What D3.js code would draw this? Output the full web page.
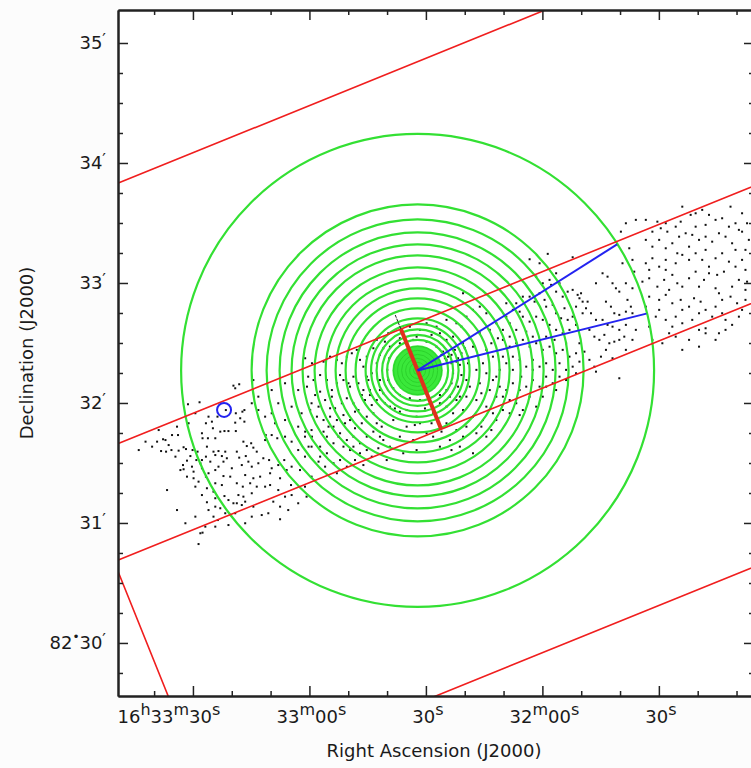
<!DOCTYPE html>
<html>
<head>
<meta charset="utf-8">
<script src="https://cdn.jsdelivr.net/npm/d3@7"></script>
<style>
  body { margin: 0; background: #fcfcfc; }
  text { font-family: "DejaVu Sans", sans-serif; fill: #1a1a1a; }
</style>
</head>
<body>
<div id="main"></div>
<script>

// ---- data ----

// plot extent: RA in seconds of time (16h33m49.3s -> 16h31m25.5s), Dec in arcmin above 82 deg
const raExtent = [59629.3, 59465.5];
const decExtent = [29.558, 35.275];

const raMajor = [59610, 59580, 59550, 59520, 59490];
const raLabels = ['16h33m30s', '33m00s', '30s', '32m00s', '30s'];
const decMajor = [30, 31, 32, 33, 34, 35];
const decLabels = ["82\u202230'", "31'", "32'", "33'", "34'", "35'"];

// source position
const source = { ra: 59552.14, dec: 32.271 };

// annuli radii, arcsec
const coreRadius = 12.6;
const innerRings = [2, 4, 6, 8, 10, 12];
const outerRings = [15.25, 17.75, 20.5, 23.25, 26, 31, 36, 41, 46, 51.5, 57.5, 63, 69, 75.5, 83, 118.25];

// projection boxes: centre offset (arcsec), position angle (deg), along-axis extent, half width
const boxes = [
  { cx: 1.73, cy: -4.32, angle: 22, along: [-250, 250], half: 27 },
  { cx: 2.08, cy: -5.2, angle: 22, along: [-177, 500], half: 148.75 }
];

// sector (panda) angles in deg, radius arcsec
const sectorAngles = [13.9, 32.2];
const sectorRadius = 118.25;

// background source circle
const bgCircle = { dx: -97.1, dy: -19.75, r: 3.5 };

// events, offsets from source in arcsec (west, north)
const events = [
  [-92.4,-7.6],[-89.5,-6.9],[-82.4,-4.8],[-91.5,-8.9],[-109.4,-15.9],[-115.2,-16.9],[-96.2,-19.8],[-100.4,-23.1],
  [-104.9,-23.1],[-106.2,-26.4],[-103.2,-25.6],[-91.2,-21.4],[-87.9,-20.6],[-86.9,-19.8],[-89,-23.9],[-91.5,-26.1],
  [-86.9,-25.6],[-120.7,-28.1],[-102.7,-28.9],[-99,-30.6],[-96.9,-30.3],[-94.9,-30.3],[-91.2,-30.3],[-136.5,-35.6],
  [-130.7,-35.6],[-127.7,-34.4],[-126.5,-34.8],[-123.2,-32.3],[-120.2,-32.3],[-108.2,-31.4],[-107.9,-33.9],[-105.2,-33.9],
  [-101.5,-33.9],[-128.7,-40.3],[-126.2,-40.6],[-123.5,-39.8],[-119.9,-40.1],[-117.4,-38.4],[-116.2,-39.3],[-112.9,-39.8],
  [-110.4,-40.6],[-105.7,-38.1],[-102.4,-40.6],[-99.9,-40.3],[-96.5,-40.6],[-87.4,-35.6],[-85.7,-37.8],[-83.5,-36.4],
  [-82.4,-38.6],[-80.7,-40.6],[-76.5,-34.8],[-76.2,-32.3],[-73.2,-32.3],[-70.4,-33.9],[-66.5,-33.1],[-114,-42.8],
  [-111,-44.8],[-108.2,-44.8],[-106.2,-43.1],[-101.5,-42.3],[-98.2,-42.8],[-95.7,-43.9],[-90.7,-40.6],[-89.5,-43.6],
  [-86.2,-42.8],[-117.7,-47.3],[-115.7,-45.1],[-113.2,-48.1],[-109,-46.4],[-104,-45.6],[-99.9,-48.1],[-97.4,-45.6],
  [-93.2,-48.9],[-88.2,-47.3],[-84.9,-45.6],[-83.2,-48.1],[-79.9,-46.4],[-77.4,-43.9],[-74.5,-44.8],[-73.2,-48.9],
  [-69.9,-47.3],[-66.9,-44.8],[-63.2,-48.1],[-117.4,-49.4],[-112.4,-50.6],[-108.2,-48.9],[-104.9,-51.4],[-101.5,-49.8],
  [-97.4,-52.8],[-94,-53.1],[-86.5,-52.3],[-82.4,-53.9],[-79,-53.1],[-74,-51.4],[-69,-53.9],[-65.7,-49.8],
  [-125.7,-59.8],[-112.4,-53.9],[-109.9,-55.6],[-106.2,-53.1],[-105.7,-58.9],[-101.5,-56.4],[-98.2,-57.3],[-90.7,-56.4],
  [-87.7,-58.1],[-84,-56.4],[-80.7,-58.1],[-76.5,-58.1],[-74,-57.3],[-69.9,-59.8],[-63.5,-57.3],[-102.4,-60.6],
  [-101.5,-63.9],[-96.9,-62.8],[-89.9,-62.3],[-87.4,-63.1],[-83.2,-61.4],[-63.2,-62.3],[-55.7,-63.1],[-120.7,-69.8],
  [-105.7,-65.9],[-101.5,-68.1],[-99,-68.9],[-94.9,-64.8],[-92.4,-66.4],[-90.7,-66.4],[-88.2,-67.3],[-86.5,-65.6],
  [-82.4,-68.1],[-78.2,-72.3],[-72.4,-65.6],[-69,-68.1],[-102.4,-73.1],[-100.2,-74.8],[-101.5,-78.1],[-107.9,-81.1],
  [-109,-81.4],[-109.9,-86.8],[-69,-74.4],[-66.5,-63.1],
  [-124.9,-37.3],[-133.2,-38.1],[-121.5,-43.1],[-119,-49.8],[-115.7,-53.1],[-111.5,-58.1],[-108.2,-62.3],[-104.9,-69.8],
  [-96.5,-71.4],[-91.5,-71.4],[-83.2,-73.1],[-74.9,-71.4],[-64.9,-69.8],[-59.9,-66.4],[-56.5,-58.1],[-53.2,-53.1],
  [-59,-49.8],[-56.5,-43.1],[-53.2,-38.1],[-59.9,-39.8],[-63.2,-35.6],[-56.5,-33.1],[-53.2,-29.8],[-59.9,-28.1],
  [-66.5,-24.8],[-71.5,-26.4],[-76.5,-23.1],[-79.9,-19.8],[-83.2,-16.4],[-79.9,-13.1],[-73.2,-9.8],[-66.5,-6.4],
  [-59.9,-9.8],[-54.9,-3.1],[-53.2,-16.4],[-58.2,-21.4],[-63.2,-18.1],[-69.9,-16.4],[-73.2,-21.4],[-116.5,-76.4],
  [-111.5,-73.1],[-106.5,-78.1],[-94.9,-77.3],[-86.5,-76.4],[-129.9,-29.8],[-139.9,-39.8],[-114.9,-26.4],[-111.5,-21.4],
  [-47.2,4.4],[-43.9,6.9],[-40.5,5.3],[-38,3.6],[-35.5,6.9],[-33,8.6],[-30.5,10.3],[-28.9,5.3],[-27.2,1.9],[-25.5,6.9],
  [-45.5,-4.8],[-43,-9.8],[-40.5,-6.4],[-37.2,-4.8],[-33.9,-8.1],[-32.2,-3.1],[-29.7,-6.4],[-27.2,-9.8],[-24.7,-4.8],
  [-23,-1.4],[-49.7,-18.1],[-46.4,-14.8],[-43,-13.1],[-41.4,-18.9],[-38,-16.4],[-35.5,-13.9],[-32.2,-16.4],[-29.7,-19.8],
  [-26.4,-14.8],[-23.9,-12.3],[-20.5,-14.8],[-47.2,-24.8],[-43.9,-23.1],[-42.2,-28.1],[-39.7,-33.1],[-36.4,-26.4],
  [-33.9,-24.8],[-31.4,-28.9],[-28,-26.4],[-25.5,-23.1],[-22.2,-21.4],[-18.9,-24.8],[-48.9,-38.1],[-45.5,-33.1],
  [-42.2,-36.4],[-38.9,-31.4],[-35.5,-34.8],[-32.2,-33.1],[-28.9,-36.4],[-25.5,-33.1],[-22.2,-30.6],[-18.9,-33.1],
  [-45.5,-41.4],[-42.2,-46.4],[-38.9,-44.8],[-33.9,-39.8],[-28.9,-41.4],[-25.5,-39.8],
  [-56.4,6.1],[-53,3.6],[-55.5,-8.1],[-51.4,-12.3],[-48.9,-10.6],[-53.9,-19.8],[-50.5,-23.1],[-56.4,-30.6],[-53,-33.1],
  [-54.7,-38.1],[-49.7,-45.6],[-46.4,-48.1],[-40.5,-51.4],[-35.5,-48.1],[-31.4,-44.8],[-27.2,-47.3],[-23,-43.1],
  [-19.7,-38.9],[-17.2,-34.8],[-18,-28.1],[-20.5,-26.4],[-23,-17.3],[-28,-12.3],[-31.4,-20.6],[-37.2,-22.3],[-40.5,-24.8],
  [-44.7,-28.1],[-47.2,-30.6],[-48.9,-43.1],[-37.2,-38.1],[-32.2,-38.1],[-43.9,-18.9],[-34.7,-6.4],[-38.9,-2.3],
  [-48.9,-2.3],[-52.2,-4.8],[-18.9,-9.8],[-16.4,-16.4],[-11.4,-19],[-5.5,-19.8],[3.7,-19],[11.2,-16.4],[16.2,-13.1],
  [20.3,-8.1],[22,-2.3],[21.2,2.8],[25.3,6.9],[14.5,15.3],[7,17.8],[-0.5,16.9],[-8.9,16.1],[-16.4,14.4],[-18.9,7.8],
  [-1.4,-27.3],[7,-26.4],[12,-30.6],[17,-39.8],[22.8,-33.1],[32,-28.1],[37,-29.8],[39.5,-24.8],[32,-11.4],[37.8,-4.8],
  [32.8,3.6],[37,13.6],[40.3,16.1],[22,21.9],
  [-20.5,15.3],[-17.2,11.1],[-14.7,18.6],[-22.2,11.1],[-3.9,21.9],[1.2,20.3],[4.5,23.6],[9.5,21.9],[14.5,25.3],
  [19.5,23.6],[24.5,26.9],[27.8,30.3],[31.2,31.9],[34.5,28.6],[22.8,38.6],
  [-13.9,11.9],[-8.9,13.6],[-2.2,15.3],[4.5,14.4],[9.5,11.9],[12.8,9.4],[15.3,6.9],[17,3.6],[17.8,-1.4],[17,-6.4],
  [14.5,-9.8],[11.2,-12.3],[6.2,-13.9],[1.2,-14.8],[-3.9,-13.9],[-8.9,-12.3],[-12.2,-8.9],[-14.7,-4.8],[-15.2,0.3],
  [-14.2,6.1],[12,7.8],[13.7,6.1],[15.3,9.4],[17,7.8],[18.7,10.3],[20.3,6.1],[22,8.6],[23.7,11.1],[14.5,5.3],[19.5,4.4],
  [-8.9,5.3],[-3.9,-4.8],[4.5,1.9],[-5.5,6.9],[7.8,-4.8],
  [-20.5,3.6],[-18.9,-4.8],[-17.2,-11.4],[-13.9,-18.1],[-8.9,-20.6],[-0.5,-23.1],[7.8,-21.4],[14.5,-18.1],[21.2,-13.1],
  [24.5,-4.8],[25.3,3.6],[22.8,13.6],[17.8,16.9],[11.2,18.6],[-25.5,-3.1],[-23.9,-9.8],
  [26.2,16.1],[31.2,18.6],[36.2,20.3],[39.5,23.6],[27.8,11.9],[34.5,10.3],[37.8,6.9],[29.5,0.3],[34.5,-1.4],[39.5,-3.1],
  [26.2,-8.1],[31.2,-6.4],[36.2,-9.8],[39.5,-13.1],[19.5,-14.8],[24.5,-13.1],[29.5,-14.8],[34.5,-18.1],[17.8,-21.4],
  [22.8,-19.8],[27.8,-23.1],[32.8,-24.8],[37.8,-21.4],[14.5,-26.4],[19.5,-29.8],[24.5,-28.1],[29.5,-31.4],[34.5,-33.1],
  [16.2,-34.8],[21.2,-38.1],[27.8,-41.4],[7.8,-33.1],[11.2,-38.1],
  [-12.2,-24.8],[-5.5,-28.1],[1.2,-26.4],[4.5,-31.4],[-2.2,-34.8],[-8.9,-33.1],[-13.9,-38.1],[-7.2,-41.4],[-0.5,-39.8],
  [-15.5,-44.8],
  [65.3,58.3],[56.2,55.6],[77.8,56.6],[61.2,53.6],[69.5,48.6],[66.2,45.3],[67,42.8],[71.2,43.6],[75.3,39.4],[77.8,40.3],
  [80.3,37.8],[82,38.6],[81.2,36.1],[82.8,34.4],[85.3,34.4],[89.5,43.6],[92.8,48.6],[95.3,46.9],[97.8,43.6],[99.5,41.1],
  [101.2,39.4],[104.5,43.6],[105.3,35.3],[107.8,41.1],[108.7,49.4],[107.8,55.3],[102.8,53.6],[106.2,61.1],[107,31.9],
  [94.5,34.4],[97,31.9],[98.7,28.6],[101.2,27.8],[104.5,29.4],[107.8,28.6],[84.5,31.1],[87,28.6],[89.5,25.3],[92.8,25.3],
  [95.3,22.8],[97.8,21.9],[101.2,20.3],[104.5,22.8],[86.2,20.3],[88.7,16.9],[91.2,15.3],[93.7,17.8],[96.2,13.6],
  [98.7,14.4],[101.2,15.3],[103.7,16.9],[88.7,1.9],[89.5,-0.6],[101.2,-3.9],[56.2,36.9],[58.7,34.4],[61.2,38.6],
  [63.7,35.3],[64.5,31.9],[67.8,32.8],[69.5,28.6],[73.7,31.1],[72,26.1],[75.3,25.3],[77.8,26.9],[79.5,22.8],[76.2,20.3],
  [72.8,18.6],[69.5,20.3],[66.2,22.8],[62.8,25.3],[59.5,26.9],[56.2,24.4],[52.8,26.9],[51.2,29.4],[47.8,30.3],[44.5,26.9],
  [42.8,15.3],[46.2,16.9],[49.5,13.6],[52.8,15.3],[56.2,11.9],[59.5,13.6],[62.8,10.3],[66.2,11.9],[69.5,8.6],[72.8,10.3],
  [76.2,6.9],[79.5,8.6],[81.2,4.4],[77.8,1.9],[74.5,0.3],[71.2,3.6],[67.8,0.3],[64.5,3.6],[61.2,1.9],[57.8,5.3],[54.5,1.9],
  [51.2,5.3],[47.8,6.9],[44.5,3.6],[41.2,0.3],[41.2,-8.1],[44.5,-9.8],[47.8,-6.4],[51.2,-9.8],[54.5,-8.1],[57.8,-4.8],
  [61.2,-8.1],[64.5,-3.1],[67.8,-6.4],[71.2,-3.1],[74.5,-4.8],[79.5,-1.4],[49.5,-16.4],[46.2,-14.8],[42.8,-13.1],
  [52.8,-19.8],[56.2,-13.1],
  [46.2,23.6],[49.5,20.3],[54.5,19.4],[57.8,16.9],[64.5,16.9],[68.7,15.3],[74.5,13.6],[81.2,13.6],[83.7,9.4],[86.2,5.3],
  [92,6.9],[94.5,10.3],[97.8,6.1],[104.5,10.3],[107.8,15.3],[109.5,20.3],[82.8,28.6],[79.5,31.9],[72.8,36.9],[69.5,39.4],
  [62.8,43.6],[59.5,46.9],[52.8,36.9],[49.5,33.6],[44.5,33.6],[42.8,20.3],[46.2,11.9],[42.8,6.9],[47.8,0.3],[52,-3.1],
  [57.8,0.3],[64.5,-8.1],[69.5,-9.8],[62.8,-13.1],[59.5,-18.1],[46.2,-21.4],[42.8,-19.8],[51.2,-22.3],
  [120.3,74.4],[124.5,73.6],[122,71.1],[125.3,69.4],[129.5,71.9],[132,74.4],[132.8,81.9],[137,77.8],[139.5,78.6],
  [142.8,80.3],[146.2,77.8],[149.5,75.3],[152.8,76.1],[157,81.9],[159.5,73.6],[161.2,70.3],[165.3,73.6],[114.5,65.3],
  [117.8,61.9],[121.2,65.3],[124.5,61.1],[127.8,63.6],[131.2,66.9],[134.5,68.6],[137.8,67.8],[141.2,65.3],[144.5,66.9],
  [147.8,64.4],[151.2,68.6],[154.5,66.9],[157.8,63.6],[162.8,69.4],[166.2,65.3],[114.5,53.6],[117.8,56.1],[121.2,51.9],
  [124.5,50.3],[129.5,53.6],[132.8,57.8],[136.2,55.3],[139.5,58.6],[142.8,55.3],[146.2,51.9],[149.5,56.1],[152.8,58.6],
  [156.2,54.4],[159.5,51.9],[162.8,55.3],[165.3,44.4],[112.8,44.4],[116.2,46.1],[120.3,41.9],[123.7,45.3],[126.2,40.3],
  [130.3,43.6],[132.8,41.9],[136.2,46.1],[139.5,49.4],[143.7,45.3],[146.2,48.6],[150.3,47.8],[153.7,49.4],[157.8,41.9],
  [161.2,45.3],[164.5,50.3],[116.2,36.9],[121.2,35.3],[124.5,37.8],[127.8,33.6],[132,35.3],[136.2,31.9],[138.7,36.1],
  [142,34.4],[144.5,30.3],[149.5,31.9],[152.8,35.3],[157,36.9],[160.3,33.6],[162.8,30.3],[119.5,26.9],[124.5,25.3],
  [127.8,21.9],[132.8,23.6],[137.8,25.3],[141.2,28.6],[144.5,21.1],[147.8,26.9],[151.2,18.6],[154.5,25.3],[157.8,22.8],
  [161.2,26.9],[117.8,15.3],[122.8,13.6],[129.5,16.9],[136.2,15.3],[144.5,18.6],[149.5,15.3],
  [104.5,73.6],[109.5,75.3],[102,69.4],
  [114.5,75.3],[117.8,69.4],[139.5,71.9],[144.5,72.8],[156.2,71.9],[162.8,78.6],[164.5,60.3],[159.5,60.3],[144.5,60.3],
  [136.2,61.9],[130.3,58.6],[124.5,55.3],[116.2,50.3],[127.8,47.8],[141.2,41.9],[149.5,41.1],[164.5,40.3],[151.2,38.6],
  [132.8,30.3],[121.2,30.3],[114.5,31.9],[129.5,26.9],[152.8,28.6],[164.5,35.3],[141.2,20.3],[154.5,20.3],[126.2,18.6],
  [116.2,21.9],[141.2,11.9],[132.8,10.3]
];

// ---- layout ----

const W = 751, H = 768;
const frame = { left: 118, right: 754, top: 10, bottom: 696 };
const green = '#33e033', red = '#f01e1e', blue = '#2323f0';

const svg = d3.select('#main').append('svg').attr('width', W).attr('height', H);

const x = d3.scaleLinear().domain(raExtent).range([frame.left, frame.right]);
const y = d3.scaleLinear().domain(decExtent).range([frame.bottom, frame.top]);

// tangent-plane offsets (arcsec) -> pixel
const arcsecPerSec = 15 * Math.cos((82 + source.dec / 60) * Math.PI / 180);
const px = (dx, dy) => [x(source.ra - dx / arcsecPerSec), y(source.dec + dy / 60)];
const rpx = r => Math.abs(y(source.dec + r / 60) - y(source.dec));
const [sx, sy] = px(0, 0);

svg.append('clipPath').attr('id', 'plotclip').append('rect')
    .attr('x', frame.left).attr('y', frame.top)
    .attr('width', frame.right - frame.left).attr('height', frame.bottom - frame.top);

svg.append('rect')
    .attr('x', frame.left).attr('y', frame.top)
    .attr('width', frame.right - frame.left).attr('height', frame.bottom - frame.top)
    .attr('fill', '#ffffff');

const plot = svg.append('g').attr('clip-path', 'url(#plotclip)');

// events
plot.append('g').selectAll('rect')
    .data(events)
    .enter()
    .append('rect')
    .attr('x', d => px(d[0], d[1])[0] - 1)
    .attr('y', d => px(d[0], d[1])[1] - 1)
    .attr('width', 2)
    .attr('height', 2)
    .attr('fill', '#111');

// annuli: the innermost ones crowd into a solid core
plot.append('circle')
    .attr('cx', sx).attr('cy', sy)
    .attr('r', rpx(coreRadius))
    .attr('fill', '#3ae83a');

plot.append('g').selectAll('circle')
    .data(innerRings)
    .enter()
    .append('circle')
    .attr('cx', sx).attr('cy', sy)
    .attr('r', d => rpx(d))
    .attr('fill', 'none').attr('stroke', '#2bd22b').attr('stroke-width', 1);

plot.append('g').selectAll('circle')
    .data(outerRings)
    .enter()
    .append('circle')
    .attr('cx', sx).attr('cy', sy)
    .attr('r', d => rpx(d))
    .attr('fill', 'none').attr('stroke', green).attr('stroke-width', 2.2);

// boxes
const rad = Math.PI / 180;
const boxCorners = b => {
    const a = b.angle * rad;
    const u = [Math.cos(a), Math.sin(a)], v = [Math.sin(a), -Math.cos(a)];
    const pt = (s, w) => px(b.cx + s * u[0] + w * v[0], b.cy + s * u[1] + w * v[1]);
    return [pt(b.along[0], -b.half), pt(b.along[1], -b.half), pt(b.along[1], b.half), pt(b.along[0], b.half)];
};

plot.append('g').selectAll('polygon')
    .data(boxes)
    .enter()
    .append('polygon')
    .attr('points', d => boxCorners(d).map(p => p.join(',')).join(' '))
    .attr('fill', 'none').attr('stroke', red).attr('stroke-width', 1.6);

// cross-cut bar of the inner box through the source
const inner = boxes[0];
const ia = inner.angle * rad;
const iv = [Math.sin(ia), -Math.cos(ia)];
const barEnd = w => px(inner.cx + w * iv[0], inner.cy + w * iv[1]);
const b0 = barEnd(-inner.half), b1 = barEnd(inner.half), b2 = barEnd(-inner.half - 7.6);

plot.append('line')
    .attr('x1', b2[0]).attr('y1', b2[1]).attr('x2', b0[0]).attr('y2', b0[1])
    .attr('stroke', '#222').attr('stroke-width', 1).attr('stroke-dasharray', '3,1');

plot.append('line')
    .attr('x1', b0[0]).attr('y1', b0[1]).attr('x2', b1[0]).attr('y2', b1[1])
    .attr('stroke', '#e0301c').attr('stroke-width', 4);

// sector
plot.append('g').selectAll('line')
    .data(sectorAngles)
    .enter()
    .append('line')
    .attr('x1', sx).attr('y1', sy)
    .attr('x2', d => px(sectorRadius * Math.cos(d * rad), sectorRadius * Math.sin(d * rad))[0])
    .attr('y2', d => px(sectorRadius * Math.cos(d * rad), sectorRadius * Math.sin(d * rad))[1])
    .attr('stroke', blue).attr('stroke-width', 2);

// background circle
plot.append('circle')
    .attr('cx', px(bgCircle.dx, bgCircle.dy)[0])
    .attr('cy', px(bgCircle.dx, bgCircle.dy)[1])
    .attr('r', rpx(bgCircle.r))
    .attr('fill', 'none').attr('stroke', blue).attr('stroke-width', 2);

// ---- axes ----

const raMinor = d3.range(59470, 59630, 10).filter(d => raMajor.indexOf(d) < 0);
const decMinor = d3.range(29.75, 35.25, 0.25).filter(d => decMajor.indexOf(d) < 0);

function frameAxis(axisFn, scale, pos, ticks, len) {
    return svg.append('g')
        .attr('transform', pos)
        .call(axisFn(scale).tickValues(ticks).tickSize(-len).tickSizeOuter(0).tickFormat(''))
        .call(g => g.selectAll('line').attr('stroke', '#222').attr('stroke-width', 1.5))
        .call(g => g.select('.domain').attr('stroke', '#222').attr('stroke-width', 2));
}

frameAxis(d3.axisBottom, x, `translate(0,${frame.bottom})`, raMinor, 5);
frameAxis(d3.axisBottom, x, `translate(0,${frame.bottom})`, raMajor, 10);
frameAxis(d3.axisTop, x, `translate(0,${frame.top})`, raMinor, 5);
frameAxis(d3.axisTop, x, `translate(0,${frame.top})`, raMajor, 10);
frameAxis(d3.axisLeft, y, `translate(${frame.left},0)`, decMinor, 5);
frameAxis(d3.axisLeft, y, `translate(${frame.left},0)`, decMajor, 10);
frameAxis(d3.axisRight, y, `translate(${frame.right},0)`, decMinor, 5);
frameAxis(d3.axisRight, y, `translate(${frame.right},0)`, decMajor, 10);

// labels with raised unit letters
function sexLabel(text, str) {
    const parts = str.match(/\d+|\D/g);
    let shift = 0;
    parts.forEach(p => {
        const isNum = /\d/.test(p);
        const t = text.append('tspan').text(p === "'" ? '\u2032' : p);
        if (isNum) {
            if (shift) t.attr('dy', -shift);
            shift = 0;
        } else {
            const s = p === "'" ? -4 : -8;
            t.attr('dy', s - shift).attr('font-size', p === '\u2022' ? 12 : 16);
            shift = s;
        }
    });
}

svg.append('g').selectAll('text')
    .data(raMajor)
    .enter()
    .append('text')
    .attr('x', (d, i) => x(d) + (i === 0 ? -24 : 2))
    .attr('y', frame.bottom + 27)
    .attr('text-anchor', 'middle')
    .attr('font-size', 18)
    .each(function (d, i) { sexLabel(d3.select(this), raLabels[i]); });

svg.append('g').selectAll('text')
    .data(decMajor)
    .enter()
    .append('text')
    .attr('x', frame.left - 12)
    .attr('y', d => y(d) + 6)
    .attr('text-anchor', 'end')
    .attr('font-size', 18)
    .each(function (d, i) { sexLabel(d3.select(this), decLabels[i]); });

svg.append('text')
    .attr('x', (frame.left + 750) / 2)
    .attr('y', 757)
    .attr('text-anchor', 'middle')
    .attr('font-size', 18)
    .text('Right Ascension (J2000)');

svg.append('text')
    .attr('transform', `translate(33,${(frame.top + frame.bottom) / 2}) rotate(-90)`)
    .attr('text-anchor', 'middle')
    .attr('font-size', 18)
    .text('Declination (J2000)');

</script>
</body>
</html>
